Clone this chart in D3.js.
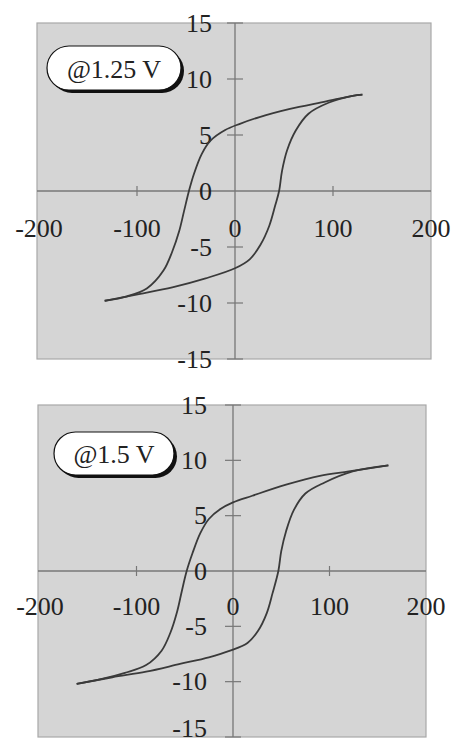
<!DOCTYPE html>
<html>
<head>
<meta charset="utf-8">
<script src="https://cdn.jsdelivr.net/npm/d3@7/dist/d3.min.js"></script>
<style>
  body { margin: 0; background: #fff; }
  svg { display: block; }
  text { font-family: "Liberation Serif", "DejaVu Serif", serif; fill: #222; }
</style>
</head>
<body>
<svg id="chart" width="452" height="744"></svg>
<script>
// tick values
const xTicks = [-200, -100, 0, 100, 200];
const yTicks = [-15, -10, -5, 0, 5, 10, 15];

// hysteresis loop @1.25 V: upper branch (right tip -> left tip), lower branch (left tip -> right tip)
const upper125 = [[130,8.6],[120,8.5],[93,8.0],[55,7.3],[25,6.6],[5,6.0],[-10,5.45],[-25,4.5],[-34,3.3],[-42,1.5],[-47,0],[-52,-1.8],[-57,-3.6],[-64,-5.4],[-73,-7.1],[-90,-8.7],[-110,-9.4],[-133,-9.8]];
const lower125 = [[-133,-9.8],[-98,-9.2],[-64,-8.6],[-30,-7.8],[0,-6.9],[15,-6.1],[26,-4.8],[35,-3.1],[41,-1.3],[45,0],[48,1.8],[53,3.6],[62,5.4],[75,6.9],[96,7.9],[120,8.5],[130,8.6]];

// hysteresis loop @1.5 V
const upper150 = [[161,9.55],[120,9.0],[90,8.6],[55,7.8],[20,6.8],[0,6.2],[-13,5.6],[-25,4.7],[-34,3.4],[-42,1.6],[-48,0],[-53,-1.8],[-58,-3.7],[-65,-5.6],[-74,-7.2],[-90,-8.5],[-112,-9.2],[-138,-9.8],[-162,-10.2]];
const lower150 = [[-162,-10.2],[-125,-9.6],[-90,-9.1],[-55,-8.4],[-25,-7.8],[-3,-7.2],[15,-6.5],[26,-5.4],[35,-3.8],[41,-2.0],[47,0],[50,1.8],[55,3.6],[63,5.5],[75,7.0],[95,8.0],[124,9.0],[161,9.55]];

const svg = d3.select("#chart");
const H = 744;

function panel(opts) {
  const g = svg.append("g");
  const x = d3.scaleLinear().domain([-200, 200]).range([opts.x0, opts.x1]);
  const y = d3.scaleLinear().domain([-15, 15]).range([opts.y1, opts.y0]);

  // plot area
  g.append("rect")
    .attr("x", opts.x0 - 2).attr("y", opts.y0)
    .attr("width", opts.x1 - opts.x0 + 2).attr("height", opts.y1 - opts.y0)
    .attr("fill", "#d5d5d5").attr("stroke", "#a8a8a8").attr("stroke-width", 1.2);

  // axes through origin
  g.append("line").attr("x1", opts.x0 - 2).attr("x2", opts.x1).attr("y1", y(0)).attr("y2", y(0))
    .attr("stroke", "#777").attr("stroke-width", 1.3);
  g.append("line").attr("x1", x(0)).attr("x2", x(0)).attr("y1", opts.y0).attr("y2", opts.y1)
    .attr("stroke", "#777").attr("stroke-width", 1.3);

  // x ticks and labels
  g.selectAll(".xt").data(xTicks.filter(d => d !== 0 && Math.abs(d) < 200)).join("line")
    .attr("x1", d => x(d)).attr("x2", d => x(d))
    .attr("y1", y(0) - 5).attr("y2", y(0) + 5)
    .attr("stroke", "#777").attr("stroke-width", 1.2);
  g.selectAll(".xl").data(xTicks).join("text")
    .attr("x", d => x(d)).attr("y", y(0) + opts.xLabOff)
    .attr("text-anchor", "middle").attr("dominant-baseline", "middle")
    .attr("font-size", 26).text(d => d);

  // y ticks and labels
  g.selectAll(".yt").data(yTicks.filter(d => d !== 0)).join("line")
    .attr("x1", x(0) - 8).attr("x2", x(0) + 8)
    .attr("y1", d => y(d)).attr("y2", d => y(d))
    .attr("stroke", "#777").attr("stroke-width", 1.2);
  g.selectAll(".yl").data(yTicks).join("text")
    .attr("x", x(0) - opts.yLabOff).attr("y", d => Math.min(y(d), H - 16))
    .attr("text-anchor", "end").attr("dominant-baseline", "central")
    .attr("font-size", 26).text(d => d);

  // loop
  const line = d3.line().x(d => x(d[0])).y(d => y(d[1])).curve(d3.curveCatmullRom.alpha(0.5));
  [opts.upper, opts.lower].forEach(arr => {
    g.append("path").attr("d", line(arr))
      .attr("fill", "none").attr("stroke", "#3a3a3a").attr("stroke-width", 1.8);
  });

  // label pill with shadow
  const b = opts.box;
  g.append("rect").attr("x", b.x + 3).attr("y", b.y + 3).attr("width", b.w).attr("height", b.h)
    .attr("rx", b.h / 2).attr("fill", "#111");
  g.append("rect").attr("x", b.x).attr("y", b.y).attr("width", b.w).attr("height", b.h)
    .attr("rx", b.h / 2).attr("fill", "#fff").attr("stroke", "#111").attr("stroke-width", 1.2);
  g.append("text").attr("x", b.x + b.w / 2).attr("y", b.y + b.h / 2 + 1)
    .attr("text-anchor", "middle").attr("dominant-baseline", "central")
    .attr("font-size", 26).text(opts.label);
}

panel({ x0: 39, x1: 431, y0: 23, y1: 359, xLabOff: 40, yLabOff: 23,
  upper: upper125, lower: lower125, label: "@1.25 V",
  box: { x: 47, y: 46, w: 134, h: 44 } });

panel({ x0: 40, x1: 426, y0: 405, y1: 737, xLabOff: 38, yLabOff: 26,
  upper: upper150, lower: lower150, label: "@1.5 V",
  box: { x: 54, y: 432, w: 120, h: 43 } });
</script>
</body>
</html>
